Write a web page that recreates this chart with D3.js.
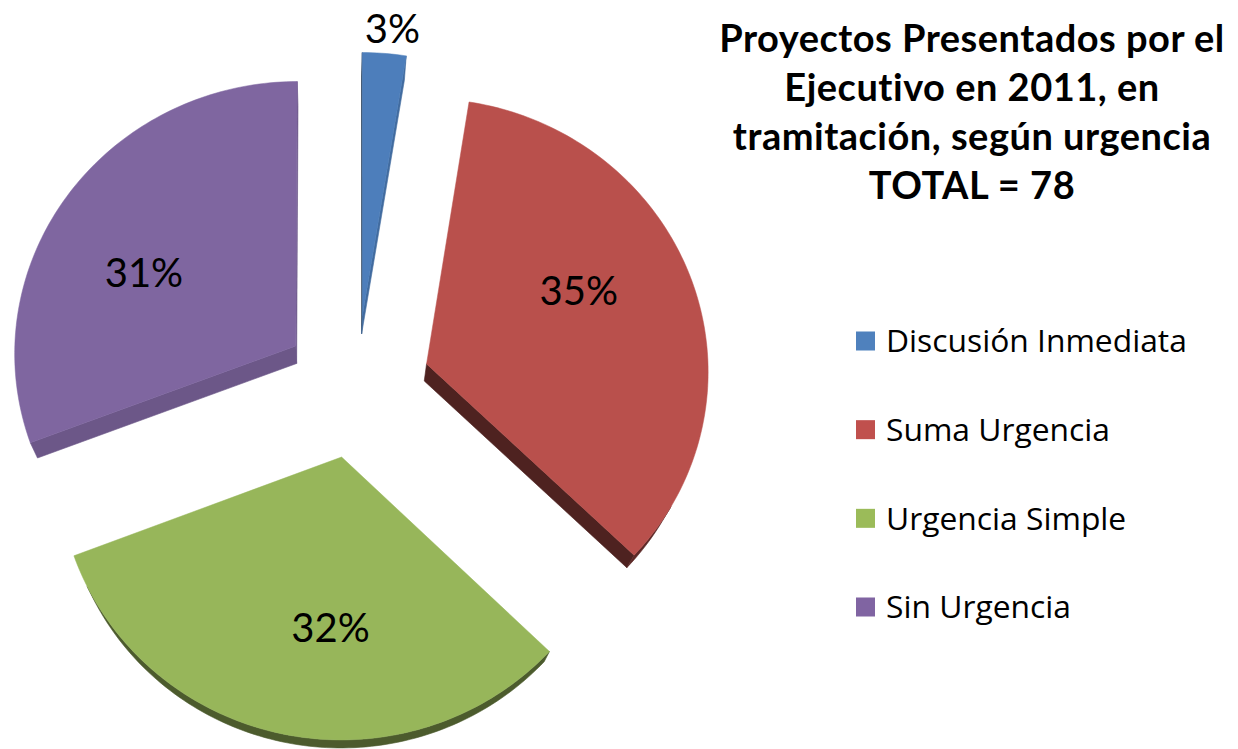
<!DOCTYPE html>
<html>
<head>
<meta charset="utf-8">
<script src="https://cdn.jsdelivr.net/npm/d3@7"></script>
<style>
  html, body { margin: 0; padding: 0; background: #fff; }
  svg { display: block; }
</style>
</head>
<body>
<div id="chart"></div>
<script>
// data
var categories = ["Discusión Inmediata", "Suma Urgencia", "Urgencia Simple", "Sin Urgencia"];
var counts = [2, 27, 25, 24];
var topColors = ["#4d7ebb", "#b9504c", "#97b65a", "#7f66a0"];
var legendColors = ["#4f81bd", "#c0504d", "#9bbb59", "#8064a2"];
var titleLines = ["Proyectos Presentados por el", "Ejecutivo en 2011, en", "tramitación, según urgencia"];

var width = 1238, height = 749;

// pie geometry (3d look, slight perspective)
var cx = 356.5, cy = 386.5, R = 282, explode = 74;
var tilt = 0.967, persp = 0.0239;
var depthK = 0.024, vp = [330, 1075];

var svg = d3.select("#chart")
    .append("svg")
    .attr("width", width)
    .attr("height", height);

function proj(X, Y) {
    var s = 1 / (1 + persp * Y / R);
    return [cx + X * s, cy - Y * tilt * s];
}
function drop(p) {
    return [p[0] + depthK * (vp[0] - p[0]), p[1] + depthK * (vp[1] - p[1])];
}
function area(pts) {
    var a = 0;
    for (var i = 0; i < pts.length; i++) {
        var p = pts[i], q = pts[(i + 1) % pts.length];
        a += p[0] * q[1] - q[0] * p[1];
    }
    return a / 2;
}
// side faces lit from the right
function faceLight(normal) {
    var a = ((normal % (2 * Math.PI)) + 2 * Math.PI) % (2 * Math.PI);
    return a < Math.PI ? 0.85 : 0.42;
}

var line = d3.line().curve(d3.curveLinearClosed);
var total = d3.sum(counts);

var pie = d3.pie().sort(null).value(function (d) { return d; });
var arcs = pie(counts);

var gPie = svg.append("g");

arcs.forEach(function (d, i) {
    var b = (d.startAngle + d.endAngle) / 2;
    var ox = explode * Math.sin(b), oy = explode * Math.cos(b);
    var n = Math.max(2, Math.ceil((d.endAngle - d.startAngle) / 0.02));
    var angles = d3.range(n + 1).map(function (k) {
        return d.startAngle + (d.endAngle - d.startAngle) * k / n;
    });
    var pts = [proj(ox, oy)].concat(angles.map(function (a) {
        return proj(ox + R * Math.sin(a), oy + R * Math.cos(a));
    }));

    var base = d3.color(topColors[i]);
    function shade(f) {
        return d3.rgb(base.r * f, base.g * f, base.b * f).formatHex();
    }

    // radial faces
    var startQuad = [pts[0], pts[1], drop(pts[1]), drop(pts[0])];
    var endQuad = [pts[pts.length - 1], pts[0], drop(pts[0]), drop(pts[pts.length - 1])];
    [[startQuad, faceLight(d.startAngle - Math.PI / 2)],
     [endQuad, faceLight(d.endAngle + Math.PI / 2)]].forEach(function (f) {
        if (area(f[0]) < 0) {
            gPie.append("path").attr("d", line(f[0]))
                .attr("fill", shade(f[1])).attr("stroke", shade(f[1])).attr("stroke-width", 0.6);
        }
    });

    // outer rim, grouped into runs of visible segments
    var run = [];
    function flush() {
        if (run.length > 1) {
            var poly = run.concat(run.slice().reverse().map(drop));
            gPie.append("path").attr("d", line(poly))
                .attr("fill", shade(0.5)).attr("stroke", shade(0.5)).attr("stroke-width", 0.6);
        }
        run = [];
    }
    for (var k = 1; k < pts.length - 1; k++) {
        var q = [pts[k], pts[k + 1], drop(pts[k + 1]), drop(pts[k])];
        if (area(q) < 0) {
            if (run.length === 0) run.push(pts[k]);
            run.push(pts[k + 1]);
        } else {
            flush();
        }
    }
    flush();

    // top face
    gPie.append("path")
        .attr("d", line(pts))
        .attr("fill", topColors[i])
        .attr("stroke", topColors[i])
        .attr("stroke-width", 0.5);

    // label
    var pct = Math.round(d.value / total * 100) + "%";
    var lp;
    if (d.value / total < 0.05) {
        var r1 = R * 1.1, la1 = b + 0.02;
        lp = proj(ox + r1 * Math.sin(la1), oy + r1 * Math.cos(la1));
    } else {
        var la = b - 8 * Math.PI / 180, r2 = R * 0.61;
        lp = proj(ox + r2 * Math.sin(la), oy + r2 * Math.cos(la));
    }
    svg.append("text")
        .attr("x", lp[0])
        .attr("y", lp[1])
        .attr("dy", "0.36em")
        .attr("text-anchor", "middle")
        .style("font-family", "Lato, 'Open Sans', sans-serif")
        .style("font-size", "40px")
        .style("fill", "#000")
        .text(pct);
});

// title
var title = svg.append("text")
    .attr("text-anchor", "middle")
    .style("font-family", "Lato, 'Open Sans', sans-serif")
    .style("font-weight", "bold")
    .style("font-size", "38px")
    .style("letter-spacing", "0.5px")
    .style("fill", "#000");
titleLines.concat(["TOTAL = " + total]).forEach(function (t, i) {
    title.append("tspan")
        .attr("x", 972)
        .attr("y", 52 + i * 49)
        .text(t);
});

// legend
var legendY = d3.scalePoint().domain(categories).range([341, 607]);
var legend = svg.append("g");
categories.forEach(function (c, i) {
    var y = legendY(c);
    legend.append("rect")
        .attr("x", 856)
        .attr("y", y - 9.5)
        .attr("width", 19)
        .attr("height", 19)
        .attr("fill", legendColors[i]);
    legend.append("text")
        .attr("x", 886)
        .attr("y", y)
        .attr("dy", "0.36em")
        .style("font-family", "'Open Sans', Lato, sans-serif")
        .style("font-size", "31.8px")
        .style("fill", "#000")
        .text(c);
});
</script>
</body>
</html>
